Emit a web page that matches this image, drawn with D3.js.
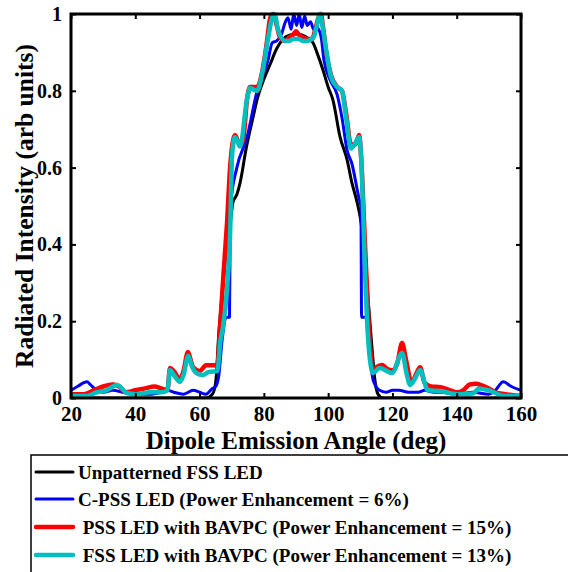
<!DOCTYPE html>
<html>
<head>
<meta charset="utf-8">
<script src="https://cdn.jsdelivr.net/npm/d3@7"></script>
<style>
  body { margin: 0; background: #fff; }
  text { font-family: "Liberation Serif", "Times New Roman", serif; font-weight: bold; }
</style>
</head>
<body>
<script>
// Daten
const xTicks = [20, 40, 60, 80, 100, 120, 140, 160];
const yTicks = [0, 0.2, 0.4, 0.6, 0.8, 1];
const yTickLabels = ['0', '0.2', '0.4', '0.6', '0.8', '1'];

const seriesNames = [
    'Unpatterned FSS LED',
    'C-PSS LED (Power Enhancement = 6%)',
    ' PSS LED with BAVPC (Power Enhancement = 15%)',
    ' FSS LED with BAVPC (Power Enhancement = 13%)'
];
const seriesColors = ['#000000', '#0000ff', '#ff0000', '#00bfbf'];

const angleBlack = [20, 40, 62, 64, 65, 66, 67, 68, 69.5, 70.4, 71.6, 72.6, 74.5, 76.6, 78, 80, 82, 84, 86, 88, 90,
    92, 94, 95.3, 96.5, 98.4, 100, 101.5, 103.7, 105.9, 107.4, 109, 110, 111.5, 112.5, 113.7, 114.5, 115.5, 117, 140, 160];
const valBlack = [0, 0, 0, 0.01, 0.04, 0.17, 0.27, 0.36, 0.45, 0.51, 0.53, 0.56, 0.65, 0.73, 0.78, 0.83, 0.87, 0.91, 0.935, 0.945, 0.948,
    0.945, 0.935, 0.925, 0.9, 0.854, 0.81, 0.776, 0.68, 0.62, 0.56, 0.51, 0.47, 0.37, 0.25, 0.125, 0.05, 0.01, 0, 0, 0];

const angleBlue = [20, 22, 25, 26, 28, 30, 33, 36, 40, 45, 48, 50, 52, 55, 58, 60, 62, 64, 65, 66, 67, 68.5, 69.3, 69.6,
    71.6, 74.8, 77.9, 81.3, 82.6, 84, 85.6, 86.5, 87.5, 88.5, 89.3, 90.2, 91, 91.8, 92.7, 93.5, 94.5, 95.5, 96.5, 97.8,
    98.7, 100.5, 102.8, 104.3, 105.9, 107.4, 109.6, 110.2, 110.4, 111.5, 114, 116, 118, 120, 122, 125, 128, 130, 133,
    135, 140, 145, 150, 152, 154.5, 157, 160];
const valBlue = [0.02, 0.03, 0.042, 0.035, 0.02, 0.015, 0.02, 0.015, 0.01, 0.01, 0.015, 0.02, 0.015, 0.01, 0.02, 0.015, 0.01, 0.025, 0.03, 0.06, 0.15, 0.21, 0.21, 0.5,
    0.6, 0.68, 0.8, 0.88, 0.925, 0.93, 0.95, 0.975, 0.99, 0.96, 1.0, 0.97, 1.0, 0.965, 0.995, 0.97, 0.98, 0.96, 0.965, 0.94,
    0.88, 0.83, 0.79, 0.73, 0.645, 0.61, 0.52, 0.5, 0.21, 0.21, 0.047, 0.02, 0.015, 0.02, 0.02, 0.015, 0.015, 0.02, 0.015,
    0.015, 0.01, 0.015, 0.01, 0.02, 0.042, 0.03, 0.02];

const angleRed = [20, 24, 27, 30, 33, 35, 37, 40, 43, 46, 48, 50, 50.8, 52, 53.8, 55, 56.4, 57.2, 58, 60, 62, 64, 65.5,
    66.5, 67.5, 68.5, 69.5, 70.2, 71, 72.5, 73.5, 74.8, 75.7, 77.9, 79.5, 81, 82, 83, 84, 85, 86.5, 88, 89, 90, 91, 92,
    93.5, 95, 96, 97, 97.7, 98.5, 99.4, 100.9, 102.8, 104.3, 105.6, 107.1, 108.5, 109.6, 110.5, 111.2, 112, 113, 114,
    115, 116.8, 118, 120, 121.5, 123, 124.2, 126, 127.5, 128.6, 130, 132, 135, 138, 140, 142, 144, 146, 148, 150, 152, 155, 160];
const valRed = [0.01, 0.01, 0.02, 0.03, 0.035, 0.03, 0.015, 0.02, 0.025, 0.03, 0.025, 0.02, 0.078, 0.07, 0.05, 0.07, 0.12, 0.1, 0.08, 0.07, 0.085, 0.085, 0.085,
    0.2, 0.33, 0.45, 0.6, 0.66, 0.685, 0.66, 0.67, 0.78, 0.81, 0.81, 0.85, 0.93, 0.99, 1.0, 0.97, 0.94, 0.93, 0.94, 0.945, 0.955, 0.945, 0.94,
    0.935, 0.935, 0.96, 0.99, 1.0, 0.96, 0.9, 0.84, 0.81, 0.8, 0.74, 0.66, 0.66, 0.685, 0.59, 0.45, 0.3, 0.14, 0.07,
    0.08, 0.086, 0.078, 0.072, 0.09, 0.143, 0.1, 0.04, 0.065, 0.08, 0.04, 0.03, 0.028, 0.02, 0.015, 0.02, 0.035, 0.037, 0.032, 0.025, 0.015, 0.01, 0.005];

const angleCyan = [20, 25, 28, 31, 34.3, 37.4, 40, 45, 48, 50, 50.8, 52, 53.9, 55, 56.5, 57.5, 59, 61, 63, 65.5,
    66.5, 67.3, 68.5, 69.5, 70.1, 71, 72.6, 74.8, 75.7, 77.9, 79.5, 81, 82.6, 83.3, 84.4, 86.6, 88, 89, 90, 91, 92,
    93.5, 95.5, 96.5, 97.5, 97.8, 99.4, 100.9, 102.8, 104.3, 105.6, 107.1, 108.2, 109.6, 110.5, 111.2, 112, 113, 114,
    116, 119.9, 123, 124.5, 125.5, 127, 128.6, 131, 135, 140, 145, 147, 150, 155, 160];
const valCyan = [0.005, 0.005, 0.015, 0.02, 0.034, 0.013, 0.01, 0.015, 0.015, 0.02, 0.073, 0.06, 0.042, 0.06, 0.11, 0.085, 0.065, 0.06, 0.068, 0.07,
    0.15, 0.185, 0.28, 0.43, 0.63, 0.68, 0.655, 0.78, 0.807, 0.8, 0.846, 0.92, 0.99, 1.0, 0.96, 0.93, 0.93, 0.935, 0.935, 0.935, 0.93,
    0.93, 0.94, 0.97, 1.0, 0.99, 0.906, 0.836, 0.81, 0.8, 0.73, 0.65, 0.66, 0.68, 0.585, 0.4, 0.22, 0.1, 0.065,
    0.078, 0.065, 0.117, 0.06, 0.034, 0.05, 0.073, 0.02, 0.018, 0.01, 0.012, 0.025, 0.02, 0.005, 0.005];

const seriesData = [
    angleBlack.map((a, i) => [a, valBlack[i]]),
    angleBlue.map((a, i) => [a, valBlue[i]]),
    angleRed.map((a, i) => [a, valRed[i]]),
    angleCyan.map((a, i) => [a, valCyan[i]])
];
const lineWidths = [3, 3, 4.5, 4.5];

const width = 568, height = 572;
const margin = { left: 71, top: 14, right: 47, bottom: 174 };
const innerW = width - margin.left - margin.right;
const innerH = height - margin.top - margin.bottom;
const serif = '"Liberation Serif", "Times New Roman", serif';

const svg = d3.select('body').append('svg')
    .attr('width', width)
    .attr('height', height)
    .attr('font-family', serif);

const x = d3.scaleLinear().domain([20, 160]).range([margin.left, margin.left + innerW]);
const y = d3.scaleLinear().domain([0, 1]).range([margin.top + innerH, margin.top]);

// Kurven
svg.append('defs').append('clipPath').attr('id', 'clip')
    .append('rect')
    .attr('x', margin.left).attr('y', margin.top - 3)
    .attr('width', innerW).attr('height', innerH + 3);

const line = d3.line()
    .x(d => x(d[0]))
    .y(d => y(d[1]))
    .curve(d3.curveMonotoneX);
svg.append('g').attr('clip-path', 'url(#clip)')
    .selectAll('path.series')
    .data(seriesData)
    .enter().append('path')
    .attr('class', 'series')
    .attr('d', line)
    .attr('fill', 'none')
    .attr('stroke', (_d, i) => seriesColors[i])
    .attr('stroke-width', (_d, i) => lineWidths[i])
    .attr('stroke-linejoin', 'round');

// Achsen mit Ticks nach innen
const tickLen = 5;
const fmtY = (_d, i) => yTickLabels[i];
const xAxisG = svg.append('g')
    .attr('transform', 'translate(0,' + (margin.top + innerH) + ')')
    .call(d3.axisBottom(x).tickValues(xTicks).tickSizeInner(-tickLen).tickSizeOuter(0).tickPadding(8))
    .call(g => g.select('.domain').remove());
svg.append('g')
    .attr('transform', 'translate(0,' + margin.top + ')')
    .call(d3.axisTop(x).tickValues(xTicks).tickSizeInner(-tickLen).tickSizeOuter(0).tickFormat(''))
    .call(g => g.select('.domain').remove());
const yAxisG = svg.append('g')
    .attr('transform', 'translate(' + margin.left + ',0)')
    .call(d3.axisLeft(y).tickValues(yTicks).tickSizeInner(-tickLen).tickSizeOuter(0).tickPadding(9).tickFormat(fmtY))
    .call(g => g.select('.domain').remove());
svg.append('g')
    .attr('transform', 'translate(' + (margin.left + innerW) + ',0)')
    .call(d3.axisRight(y).tickValues(yTicks).tickSizeInner(-tickLen).tickSizeOuter(0).tickFormat(''))
    .call(g => g.select('.domain').remove());

svg.selectAll('.tick line').attr('stroke', '#000').attr('stroke-width', 2);
svg.selectAll('.tick text')
    .attr('font-family', serif)
    .attr('font-weight', 'bold')
    .attr('fill', '#000');
xAxisG.selectAll('.tick text').attr('font-size', 21);
yAxisG.selectAll('.tick text').attr('font-size', 20);

svg.append('rect')
    .attr('x', margin.left).attr('y', margin.top)
    .attr('width', innerW).attr('height', innerH)
    .attr('fill', 'none')
    .attr('stroke', '#000')
    .attr('stroke-width', 3);

// Achsentitel
svg.append('text')
    .attr('x', margin.left + innerW / 2)
    .attr('y', 449)
    .attr('text-anchor', 'middle')
    .attr('font-size', 25)
    .text('Dipole Emission Angle (deg)');

svg.append('text')
    .attr('transform', 'translate(33,' + (margin.top + innerH / 2) + ') rotate(-90)')
    .attr('text-anchor', 'middle')
    .attr('font-size', 25.5)
    .text('Radiated Intensity (arb units)');

// Legende
const legend = svg.append('g');
legend.append('rect')
    .attr('x', 31).attr('y', 455)
    .attr('width', 560).attr('height', 140)
    .attr('fill', '#fff')
    .attr('stroke', '#000')
    .attr('stroke-width', 1.5);

const legendY = [472, 499, 527, 555];
const items = legend.selectAll('g.item')
    .data(seriesNames)
    .enter().append('g')
    .attr('class', 'item')
    .attr('transform', (_d, i) => 'translate(0,' + legendY[i] + ')');
items.append('line')
    .attr('x1', 36).attr('x2', 73)
    .attr('stroke', (_d, i) => seriesColors[i])
    .attr('stroke-width', (_d, i) => i < 2 ? 3 : 4.5)
    .attr('stroke-linecap', 'round');
items.append('text')
    .attr('x', 78)
    .attr('dy', '0.35em')
    .attr('font-size', 19)
    .style('white-space', 'pre')
    .text(d => d);
</script>
</body>
</html>
